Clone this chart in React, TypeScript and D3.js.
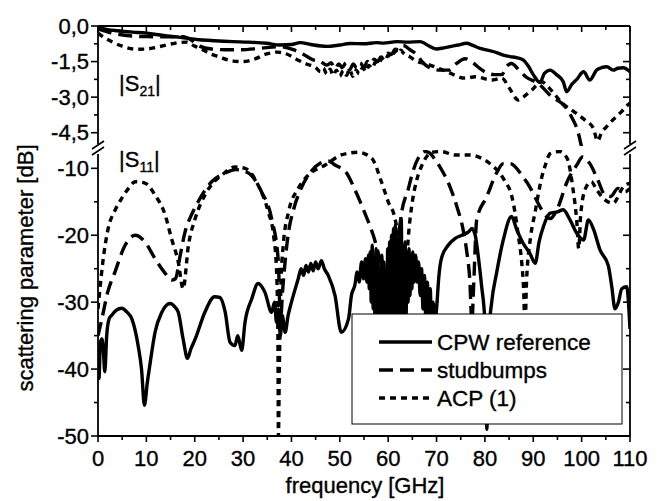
import React from "react";
import * as d3 from "d3";

// frequency axis
const freqTicks = [0, 10, 20, 30, 40, 50, 60, 70, 80, 90, 100, 110];
const freqMinor = [5, 15, 25, 35, 45, 55, 65, 75, 85, 95, 105];

// upper panel |S21|
const s21Ticks = [0, -1.5, -3, -4.5];
const s21Labels = ["0,0", "-1,5", "-3,0", "-4,5"];
const s21Minor = [-0.75, -2.25, -3.75];

// lower panel |S11|
const s11Ticks = [-10, -20, -30, -40, -50];
const s11Labels = ["-10", "-20", "-30", "-40", "-50"];
const s11Minor = [-15, -25, -35, -45];

const seriesNames = ["CPW reference", "studbumps", "ACP (1)"];

// [GHz, dB]
const cpwS21: [number, number][] = [
  [0, -0.05], [2, -0.15], [4, -0.2], [7.2, -0.26], [10, -0.3], [12, -0.36], [14.2, -0.42],
  [17, -0.48], [21, -0.58], [24, -0.62], [27.9, -0.66], [31, -0.68], [34.9, -0.73], [37.6, -0.8],
  [40, -0.78], [41.8, -0.7], [44, -0.78], [47.3, -0.86], [50, -0.8], [52.1, -0.74], [54.9, -0.75],
  [57.6, -0.7], [59, -0.72], [61.8, -0.66], [64, -0.68], [66.6, -0.66], [68.5, -0.85], [70, -0.97],
  [71.5, -0.92], [72.8, -0.87], [74.5, -0.8], [76.2, -0.73], [77.5, -0.82], [79, -0.94], [80.5, -1.02],
  [82.4, -1.12], [84, -1.24], [85.2, -1.29], [86.5, -1.33], [87.9, -1.43], [89, -1.7], [90, -2.05],
  [91.4, -2.38], [92.3, -2.0], [93.5, -1.86], [94.8, -2.05], [96.2, -2.35], [96.9, -2.77], [98, -2.45],
  [99, -2.25], [100.4, -1.93], [101.7, -2.28], [103.1, -1.86], [104.2, -1.75], [105.2, -1.72],
  [106.5, -1.86], [107.5, -1.78], [108.6, -1.76], [110, -1.93],
];

const studS21: [number, number][] = [
  [0, -0.12], [3, -0.3], [7, -0.42], [10, -0.45], [14, -0.46], [17.6, -0.45], [19.5, -0.62],
  [21, -0.85], [23.5, -0.97], [26.6, -1.0], [29.4, -1.0], [33.5, -0.94], [37.6, -0.87], [40.4, -1.0],
  [42.5, -1.2], [44.5, -1.43], [46, -1.5], [47.3, -1.65], [48.2, -1.55], [49, -1.8], [49.8, -1.6],
  [50.5, -1.75], [51.3, -1.55], [52, -1.85], [52.8, -1.6], [53.5, -1.78], [54.2, -1.55],
  [55, -1.75], [55.7, -1.5], [56.4, -1.6], [57.1, -1.4], [57.8, -1.5], [58.5, -1.3], [59.2, -1.35],
  [60, -1.15], [60.7, -1.2], [61.4, -0.98], [62.1, -1.0], [63.1, -0.82], [64.5, -1.0],
  [65.9, -1.2], [67.2, -1.55], [68.5, -1.75], [70.7, -1.86], [72.4, -1.86], [74, -1.6],
  [75.9, -1.38], [77.5, -1.55], [79, -1.8], [80.7, -2.0], [82, -2.05], [83.5, -2.05], [84.5, -1.7],
  [85.5, -1.58], [87, -1.85], [88.5, -2.15], [91, -2.42], [93.8, -2.98], [96.6, -3.4],
  [97.9, -3.83], [99.3, -4.5], [100, -5.1], [101, -5.8], [104, -6.2], [107, -6.0], [110, -5.8],
];

const acpS21: [number, number][] = [
  [0, -0.3], [1, -0.45], [3, -0.68], [5, -0.85], [8, -0.98], [10, -0.97], [12, -0.9], [14.2, -0.8],
  [16, -0.72], [18.3, -0.68], [20, -0.85], [21.1, -0.94], [23, -1.15], [25, -1.3], [27.9, -1.48],
  [30, -1.5], [32, -1.42], [34.9, -1.18], [37, -1.1], [39, -1.18], [41, -1.4], [43.1, -1.6],
  [45, -1.75], [46, -1.92], [46.6, -1.78], [47.3, -2.02], [48, -1.82], [48.6, -2.08],
  [49.3, -1.86], [50, -2.12], [50.7, -1.88], [51.4, -2.08], [52, -1.82], [52.7, -2.12],
  [53.4, -1.86], [54, -2.02], [54.7, -1.76], [55.4, -1.92], [56, -1.66], [56.7, -1.78],
  [57.4, -1.52], [58, -1.62], [58.7, -1.36], [59.4, -1.46], [60, -1.22], [60.7, -1.32],
  [61.4, -1.06], [62, -1.16], [62.6, -1.02], [63.2, -1.15], [64.5, -1.3], [66, -1.5],
  [67.6, -1.58], [70, -1.75], [72.4, -1.95], [75.9, -2.2], [78, -2.14], [81.4, -2.28],
  [83.5, -2.2], [85, -2.6], [86.9, -3.12], [88.5, -2.9], [89.7, -2.7], [91.7, -2.35], [93, -2.55],
  [94.5, -2.9], [96, -3.26], [97.9, -3.54], [100.7, -3.97], [102.4, -4.3], [103.3, -4.85],
  [104.2, -4.45], [104.9, -4.3], [106.5, -3.95], [108.3, -3.6], [109.7, -3.3], [110, -3.25],
];

const cpwS11: [number, number][] = [
  [0, -38], [0.2, -41.4], [0.5, -36], [0.8, -35.5], [1.1, -37], [1.4, -40.4], [1.8, -35],
  [2.3, -32.5], [2.8, -32], [3.8, -31.2], [4.9, -30.9], [6, -31.5], [7, -32.5], [8.3, -36.5],
  [9, -40], [9.6, -45.4], [10.2, -42], [10.8, -39], [11.8, -34.5], [13.2, -31.5], [14.9, -30.2],
  [16, -30.8], [16.6, -31.5], [17.6, -35.5], [18.5, -38.4], [19.2, -37], [20.1, -35.5],
  [22.1, -31.5], [24.1, -29.2], [25.2, -29.3], [26.3, -31.5], [27.3, -36], [28.3, -36.5],
  [28.9, -35], [29.7, -37.2], [30.4, -33], [31.8, -29.5], [33.1, -27.2], [34.5, -28.5],
  [35.9, -31.5], [36.5, -30], [36.9, -33], [37.3, -31], [37.7, -35], [38.1, -32], [38.7, -34.5],
  [39.3, -32], [40, -30], [41.4, -26.5], [42, -25], [42.5, -26], [43, -24.5], [43.5, -25.5],
  [44, -24.2], [44.5, -25.3], [45, -24], [45.5, -25], [46.2, -23.8], [46.8, -25], [47.6, -26],
  [49, -29], [50.3, -34.5], [51.8, -32.5], [52.4, -29], [53.1, -27.5], [53.6, -25.5], [54, -27],
  [54.5, -24], [54.9, -26.5], [55.3, -23.5], [55.6, -27], [55.9, -23], [56.1, -28], [56.3, -22.5],
  [56.5, -30], [56.7, -21.5], [56.9, -31], [57.1, -24], [57.3, -34], [57.5, -22], [57.7, -33],
  [57.9, -23], [58.1, -36], [58.3, -25], [58.5, -38], [58.7, -23], [58.9, -35], [59.1, -24],
  [59.3, -40], [59.5, -26], [59.7, -37], [59.9, -22], [60.1, -39], [60.3, -21], [60.5, -35],
  [60.7, -20], [60.9, -33], [61.1, -19], [61.3, -36], [61.5, -18.5], [61.7, -31], [61.9, -21],
  [62.1, -37], [62.3, -19], [62.5, -33], [62.7, -17.5], [62.9, -30], [63.1, -22], [63.3, -35],
  [63.5, -21], [63.7, -32], [63.9, -23], [64.1, -30], [64.3, -22], [64.5, -29], [64.7, -23],
  [64.9, -28], [65.1, -22.5], [65.4, -27], [65.7, -23], [66, -27], [66.3, -24], [66.6, -29],
  [66.9, -25], [67.2, -31], [67.5, -26], [67.8, -33], [68.1, -27], [68.4, -34], [68.7, -28],
  [69, -36], [69.3, -30], [69.6, -34], [70, -31], [70.5, -26], [71, -23.5], [72.4, -21.5],
  [73.8, -20.5], [75.2, -20], [76.6, -19.5], [77.3, -19], [78, -20], [78.6, -23], [79.3, -27.5],
  [80, -33], [80.4, -49], [80.8, -35], [81.4, -30], [82.4, -25.7], [83.8, -20.7], [85.5, -17.2],
  [86.6, -19.2], [87.9, -21.2], [89.3, -22.7], [90.4, -24.2], [91.2, -21], [92.1, -18.7],
  [93.5, -16.7], [95, -16.5], [96.2, -16.2], [97.6, -17.7], [99, -19.7], [100.4, -20.7],
  [101.4, -17.7], [102.5, -19.2], [103.8, -22.2], [105.5, -24.5], [106.2, -27.5], [106.9, -31],
  [107.6, -30], [108.3, -28], [109.3, -27.7], [110, -34],
];

const studS11: [number, number][] = [
  [0, -35], [0.8, -32.5], [2, -28.5], [3.5, -25.5], [5.6, -21.5], [7.7, -20], [9.7, -21],
  [11.8, -23.5], [13.9, -25.7], [15.2, -26.7], [16, -26.5], [17, -23], [18, -19.5], [19.3, -17],
  [20.7, -15], [23.5, -12], [26.3, -10.7], [28.5, -10.2], [31.1, -10.7], [33.8, -13.5],
  [35.9, -17.5], [37.3, -24], [37.7, -33], [38.2, -28], [39.3, -20], [40.5, -16], [42, -13],
  [44, -10.5], [46, -9.2], [47.6, -8.9], [49, -9.5], [51.4, -10.7], [53, -13], [54.9, -16.2],
  [57, -20.2], [58.5, -24], [59.7, -26], [60.5, -30], [61, -26], [61.8, -22.2], [62.8, -16.5],
  [64.2, -13], [64.9, -11], [66.2, -8.5], [67.6, -7.5], [68.6, -7.7], [69.5, -8.5], [70.7, -9.8],
  [72.8, -12.8], [74.2, -15.7], [75.5, -19.2], [76.2, -22.2], [76.9, -27], [77.3, -33],
  [77.7, -27], [78.3, -17.7], [80.4, -14.2], [82.4, -10.7], [83.8, -9.3], [85.2, -9.3],
  [87.9, -11.3], [89.3, -12.8], [90.7, -14.8], [92, -16.5], [93.5, -17.5], [95, -16], [97, -12],
  [99, -9.5], [100.2, -8.3], [101.7, -9.3], [103.5, -12], [104.8, -14], [106, -14.2],
  [107.5, -13], [109, -13.5], [110, -13],
];

const acpS11: [number, number][] = [
  [0, -31], [0.4, -28], [1, -24], [2.1, -19], [3.5, -16.3], [4.9, -14.5], [6.3, -13], [7.7, -12],
  [9.7, -12.2], [11.8, -14], [13.9, -17], [15.2, -20.5], [16.6, -24], [17.6, -28], [18.7, -21.5],
  [20.1, -17.5], [22.1, -14], [24, -12], [25.6, -11], [28.3, -9.8], [30.4, -10], [33.1, -12.5],
  [35.2, -16.5], [36.3, -20], [36.9, -25], [37.2, -35], [37.3, -50], [37.5, -40], [37.8, -28],
  [38.3, -21.5], [39.4, -16.5], [41.4, -13], [43.5, -11], [47, -9.5], [50.3, -8], [53.8, -7.6],
  [56.6, -8.5], [58.6, -12], [60, -15], [61.4, -17.5], [62.3, -22], [62.8, -28], [63.2, -36],
  [63.6, -27], [64.2, -20], [65, -15], [66, -11.5], [67, -9.5], [68, -8.2], [69, -7.6], [71, -7.5],
  [73.8, -8], [76.6, -8], [79.3, -8.5], [81.4, -9.5], [82.8, -10.5], [84.2, -12], [85.5, -14],
  [86.2, -16.5], [86.9, -20], [87.6, -24], [88, -28], [88.3, -34], [88.6, -27], [89.5, -20],
  [90.4, -16.5], [91, -14], [91.7, -11.5], [92.5, -9.5], [93.5, -7.8], [95.5, -7.5], [97, -8.5],
  [98.2, -13], [99, -18], [99.4, -22], [99.8, -17], [100.8, -13], [102, -12], [103.1, -13.2],
  [104.5, -14.5], [106.5, -15.2], [108.6, -12.8], [110, -12.2],
];

const W = 663;
const H = 501;
const left = 98;
const right = 630;
const top = 26;
const bottom = 436;
const topPanelBottom = 146;
const botPanelTop = 152;
const font = "'Liberation Sans', Arial, sans-serif";

const dashes = ["none", "14,7", "6,5"];

const App = () => {
  const x = d3.scaleLinear().domain([0, 110]).range([left, right]);
  const yTop = d3.scaleLinear().domain([-5.06, 0]).range([topPanelBottom, top]);
  const yBot = d3.scaleLinear().domain([-50, -7.56]).range([bottom, botPanelTop]);

  const lineTop = d3
    .line<[number, number]>()
    .x((d) => x(d[0]))
    .y((d) => yTop(d[1]))
    .curve(d3.curveMonotoneX);
  const lineBot = d3
    .line<[number, number]>()
    .x((d) => x(d[0]))
    .y((d) => yBot(d[1]))
    .curve(d3.curveMonotoneX);

  const s21 = [cpwS21, studS21, acpS21];
  const s11 = [cpwS11, studS11, acpS11];

  const yTicks = [
    ...s21Ticks.map((v, i) => ({ y: yTop(v), label: s21Labels[i], major: true })),
    ...s21Minor.map((v) => ({ y: yTop(v), label: "", major: false })),
    ...s11Ticks.map((v, i) => ({ y: yBot(v), label: s11Labels[i], major: true })),
    ...s11Minor.map((v) => ({ y: yBot(v), label: "", major: false })),
  ];

  const breakMarks = (cx: number) =>
    [145, 151].map((yy, i) => (
      <line
        key={cx + "b" + i}
        x1={cx - 6}
        y1={yy + 4}
        x2={cx + 6}
        y2={yy - 4}
        stroke="#000"
        strokeWidth={1.6}
      />
    ));

  // text is drawn slightly heavier, like the exported original
  const txt = { stroke: "#000", strokeWidth: 0.35 };

  return (
    <svg
      width={W}
      height={H}
      style={{ position: "absolute", left: 0, top: 0, background: "#fff" }}
      fontFamily={font}
    >
      <defs>
        <clipPath id="clipTop">
          <rect x={left} y={top} width={right - left} height={topPanelBottom - top} />
        </clipPath>
        <clipPath id="clipBot">
          <rect x={left} y={botPanelTop - 2} width={right - left} height={bottom - botPanelTop + 2} />
        </clipPath>
      </defs>

      {/* curves */}
      <g clipPath="url(#clipTop)">
        {s21.map((d, i) => (
          <path
            key={"t" + i}
            d={lineTop(d) || ""}
            fill="none"
            stroke="#000"
            strokeWidth={3.4}
            strokeDasharray={dashes[i]}
            strokeLinejoin="round"
          />
        ))}
      </g>
      <g clipPath="url(#clipBot)">
        {s11.map((d, i) => (
          <path
            key={"b" + i}
            d={lineBot(d) || ""}
            fill="none"
            stroke="#000"
            strokeWidth={3.4}
            strokeDasharray={dashes[i]}
            strokeLinejoin="round"
          />
        ))}
      </g>

      {/* frame */}
      <g stroke="#000" strokeWidth={1.8}>
        <line x1={left} y1={top} x2={right} y2={top} />
        <line x1={left} y1={bottom} x2={right} y2={bottom} />
        <line x1={left} y1={top} x2={left} y2={topPanelBottom - 2} />
        <line x1={left} y1={botPanelTop + 2} x2={left} y2={bottom} />
        <line x1={right} y1={top} x2={right} y2={topPanelBottom - 2} />
        <line x1={right} y1={botPanelTop + 2} x2={right} y2={bottom} />
      </g>
      {breakMarks(left)}
      {breakMarks(right)}

      {/* y ticks */}
      {yTicks.map((t, i) => (
        <g key={"yt" + i} stroke="#000" strokeWidth={1.6}>
          <line x1={left - (t.major ? 7 : 4)} y1={t.y} x2={left} y2={t.y} />
          <line x1={right - (t.major ? 7 : 4)} y1={t.y} x2={right} y2={t.y} />
        </g>
      ))}
      {yTicks
        .filter((t) => t.major)
        .map((t, i) => (
          <text key={"yl" + i} x={89} y={t.y} dy="0.35em" textAnchor="end" fontSize={22} {...txt}>
            {t.label}
          </text>
        ))}

      {/* x ticks */}
      {[...freqTicks.map((v) => [v, 1]), ...freqMinor.map((v) => [v, 0])].map(([v, m], i) => (
        <g key={"xt" + i} stroke="#000" strokeWidth={1.6}>
          <line x1={x(v)} y1={bottom} x2={x(v)} y2={bottom + (m ? 6 : 4)} />
          <line x1={x(v)} y1={top} x2={x(v)} y2={top + (m ? 6 : 4)} />
        </g>
      ))}
      {freqTicks.map((v) => (
        <text key={"xl" + v} x={x(v)} y={466} textAnchor="middle" fontSize={22} {...txt}>
          {v}
        </text>
      ))}

      {/* axis titles */}
      <text x={365} y={493} textAnchor="middle" fontSize={22} {...txt}>
        frequency [GHz]
      </text>
      <text transform="translate(33,268) rotate(-90)" textAnchor="middle" fontSize={22} {...txt}>
        scattering parameter [dB]
      </text>

      {/* panel labels */}
      <text x={119} y={91} fontSize={22} {...txt}>
        |S<tspan fontSize={14} dy={5}>21</tspan>
        <tspan dy={-5}>|</tspan>
      </text>
      <text x={119} y={167} fontSize={22} {...txt}>
        |S<tspan fontSize={14} dy={5}>11</tspan>
        <tspan dy={-5}>|</tspan>
      </text>

      {/* legend */}
      <rect x={352} y={314} width={270} height={110} fill="#fff" stroke="#000" strokeWidth={1} />
      {seriesNames.map((name, i) => {
        const ly = 342 + i * 28;
        return (
          <g key={name}>
            <line
              x1={379}
              x2={432}
              y1={ly}
              y2={ly}
              stroke="#000"
              strokeWidth={3.4}
              strokeDasharray={dashes[i]}
            />
            <text x={437} y={ly} dy="0.35em" fontSize={22.5} {...txt}>
              {name}
            </text>
          </g>
        );
      })}
    </svg>
  );
};

export default App;
